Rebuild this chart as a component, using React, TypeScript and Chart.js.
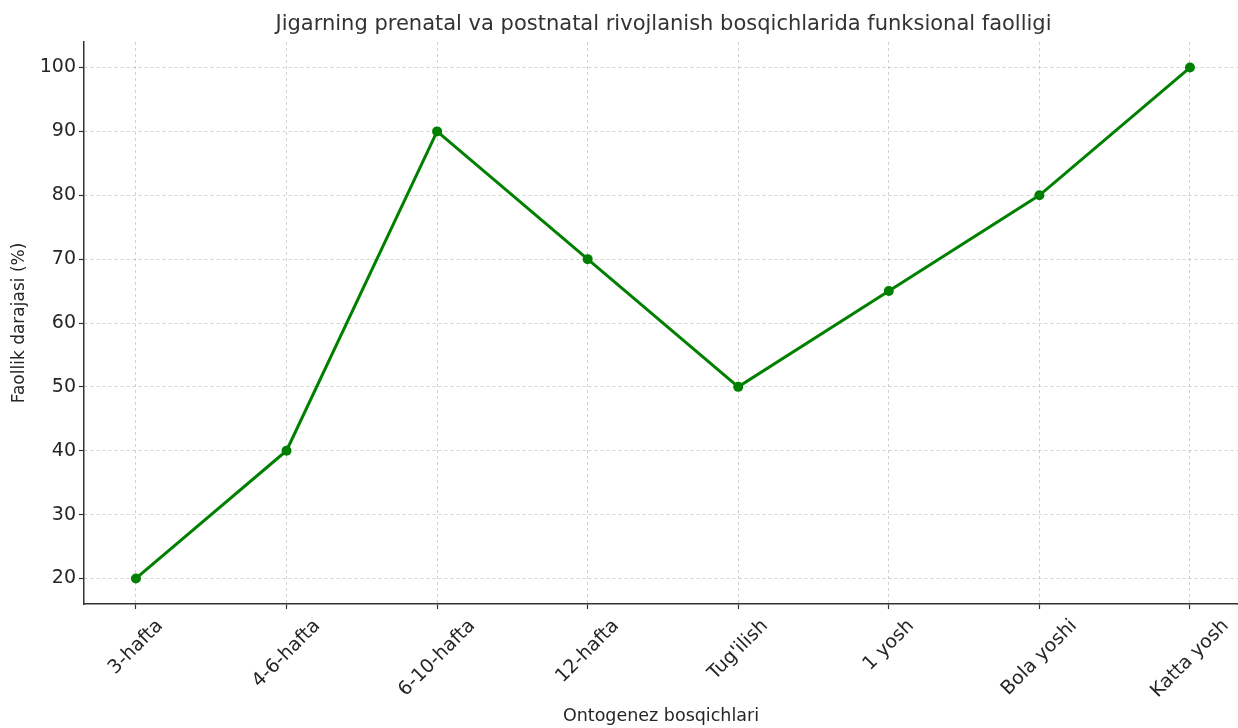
import React, { useEffect, useRef } from "react";
import { Chart, registerables } from "chart.js";

Chart.register(...registerables);

const categories = ["3-hafta", "4-6-hafta", "6-10-hafta", "12-hafta", "Tug'ilish", "1 yosh", "Bola yoshi", "Katta yosh"];
const activity = [20, 40, 90, 70, 50, 65, 80, 100];
const yTicks = [20, 30, 40, 50, 60, 70, 80, 90, 100];

const titleText = "Jigarning prenatal va postnatal rivojlanish bosqichlarida funksional faolligi";
const xTitle = "Ontogenez bosqichlari";
const yTitle = "Faollik darajasi (%)";

const FONT = "'DejaVu Sans', sans-serif";
const TEXT = "#262626";

const customText = {
  id: "customText",
  afterDraw(chart: any) {
    const ctx = chart.ctx;
    const xs = chart.scales.x;
    const area = chart.chartArea;
    ctx.save();
    // title
    ctx.font = `21px ${FONT}`;
    ctx.fillStyle = "#333333";
    ctx.textAlign = "center";
    ctx.textBaseline = "middle";
    ctx.fillText(titleText, (area.left + area.right + 5) / 2, 25);
    // rotated x tick labels
    ctx.font = `19px ${FONT}`;
    ctx.fillStyle = TEXT;
    const h = 20;
    categories.forEach((label, i) => {
      const x = xs.getPixelForValue(i);
      const w = ctx.measureText(label).width;
      const bh = (w + h) * Math.SQRT1_2;
      const cy = area.bottom + 12 + bh / 2;
      ctx.save();
      ctx.translate(x, cy);
      ctx.rotate(-Math.PI / 4);
      ctx.fillText(label, 0, 0);
      ctx.restore();
    });
    ctx.restore();
  },
};

export default function App() {
  const ref = useRef<HTMLCanvasElement>(null);
  useEffect(() => {
    if (!ref.current) return;
    const gridOpts = {
      display: true,
      color: "rgba(180,180,180,0.6)",
      lineWidth: 1,
      drawTicks: true,
      tickLength: 5,
      tickColor: "#333333",
      tickWidth: 1.2,
    };
    const chart = new Chart(ref.current, {
      type: "line",
      data: {
        datasets: [
          {
            data: activity.map((v, i) => ({ x: i, y: v })),
            borderColor: "#008000",
            backgroundColor: "#008000",
            borderWidth: 3,
            pointRadius: 5,
            pointHoverRadius: 5,
            pointBorderWidth: 0,
            tension: 0,
          },
        ],
      },
      plugins: [customText],
      options: {
        animation: false,
        responsive: false,
        maintainAspectRatio: false,
        layout: { padding: { top: 42, left: 0, right: 0, bottom: 0 }, autoPadding: false },
        plugins: {
          legend: { display: false },
          tooltip: { enabled: false },
          title: { display: false },
        },
        scales: {
          x: {
            type: "linear",
            min: -0.345,
            max: 7.319,
            afterBuildTicks: (s: any) => {
              s.ticks = categories.map((_, i) => ({ value: i }));
            },
            afterFit: (s: any) => {
              s.height = 124;
            },
            ticks: { display: false },
            grid: gridOpts,
            border: { display: true, color: "#333333", width: 1.5, dash: [3, 3] },
            title: {
              display: true,
              text: xTitle,
              color: TEXT,
              font: { family: FONT, size: 17.5 },
              padding: { top: 0, bottom: 1 },
            },
          },
          y: {
            type: "linear",
            min: 16,
            max: 104,
            afterBuildTicks: (s: any) => {
              s.ticks = yTicks.map((v) => ({ value: v }));
            },
            afterFit: (s: any) => {
              s.width = 84;
            },
            ticks: {
              color: TEXT,
              font: { family: FONT, size: 19 },
              padding: 3,
            },
            grid: gridOpts,
            border: { display: true, color: "#333333", width: 1.5, dash: [3, 3] },
            title: {
              display: true,
              text: yTitle,
              color: TEXT,
              font: { family: FONT, size: 17 },
              padding: { top: 9.8, bottom: 5 },
            },
          },
        },
      },
    } as any);
    return () => chart.destroy();
  }, []);
  return (
    <div style={{ position: "fixed", left: 0, top: 0, width: 1238, height: 728, background: "#fff" }}>
      <canvas ref={ref} width={1238} height={728} style={{ width: 1238, height: 728 }} />
    </div>
  );
}
